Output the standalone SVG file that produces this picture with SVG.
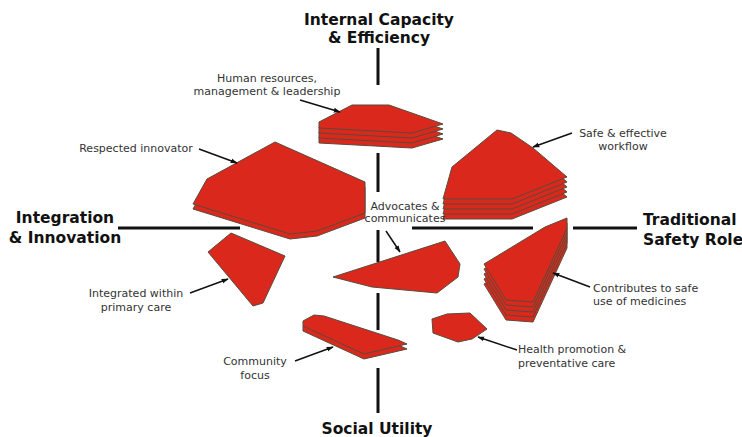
<svg xmlns="http://www.w3.org/2000/svg" xmlns:xlink="http://www.w3.org/1999/xlink" width="742" height="437" viewBox="0 0 742 437">
<style>
.shape{fill:#da291c;stroke:#5a4a3a;stroke-width:1;stroke-linejoin:round}
.axis{stroke:#111;stroke-width:3;fill:none}
.title{font-family:"DejaVu Sans",Verdana,sans-serif;font-weight:bold;font-size:15.5px;fill:#111}
.lbl{font-family:"DejaVu Sans",Verdana,sans-serif;font-size:11px;fill:#333}
.arr{stroke:#111;stroke-width:1.5;fill:none;marker-end:url(#ah)}
</style>
<defs>
<marker id="ah" viewBox="0 0 10 10" refX="9" refY="5" markerWidth="7" markerHeight="7" markerUnits="userSpaceOnUse" orient="auto">
<path d="M0,1.5 L10,5 L0,8.5 z" fill="#111"/>
</marker>
<polygon id="hrL" class="shape" points="319,122 352,105 389,105 443,124 412,133 319,128"/>
<polygon id="riL" class="shape" points="275,142 365,182 365,213 317,231 290,234 193,204 207,179"/>
<polygon id="swL" class="shape" points="497,130 511,133 533,148 567,177 512,199 443,199 452,167"/>
<polygon id="csL" class="shape" points="567,218 545,227 484,264 506,300 533,302 567,228"/>
<polygon id="cfL" class="shape" points="303,321 314,315 324,316 398,340 407,344 364,354 303,326"/>
</defs>
<rect width="742" height="437" fill="#fff"/>

<g id="axes">
<line class="axis" x1="378" y1="48" x2="378" y2="85"/>
<line class="axis" x1="378" y1="153" x2="378" y2="192"/>
<line class="axis" x1="378" y1="230" x2="378" y2="262"/>
<line class="axis" x1="378" y1="293" x2="378" y2="330"/>
<line class="axis" x1="378" y1="368" x2="378" y2="413"/>
<line class="axis" x1="118" y1="228" x2="240" y2="228"/>
<line class="axis" x1="412" y1="228" x2="533" y2="228"/>
<line class="axis" x1="573" y1="228" x2="637" y2="228"/>
</g>

<g id="title-top">
<text class="title" x="379" y="25" text-anchor="middle">Internal Capacity</text>
<text class="title" x="379" y="43" text-anchor="middle">&amp; Efficiency</text>
</g>
<g id="title-left">
<text class="title" x="65" y="223" text-anchor="middle">Integration</text>
<text class="title" x="65" y="243" text-anchor="middle">&amp; Innovation</text>
</g>
<g id="title-right">
<text class="title" x="643" y="225">Traditional</text>
<text class="title" x="643" y="245">Safety Role</text>
</g>
<g id="title-bottom">
<text class="title" x="377" y="434" text-anchor="middle">Social Utility</text>
</g>

<g id="human-resources">
<use xlink:href="#hrL" y="15"/>
<use xlink:href="#hrL" y="10"/>
<use xlink:href="#hrL" y="5"/>
<use xlink:href="#hrL"/>
<text class="lbl" x="267" y="82" text-anchor="middle">Human resources,</text>
<text class="lbl" x="267" y="95" text-anchor="middle">management &amp; leadership</text>
</g>

<g id="respected-innovator">
<use xlink:href="#riL" y="5"/>
<use xlink:href="#riL"/>
<text class="lbl" x="136" y="152" text-anchor="middle">Respected innovator</text>
</g>

<g id="safe-workflow">
<use xlink:href="#swL" y="20"/>
<use xlink:href="#swL" y="15"/>
<use xlink:href="#swL" y="10"/>
<use xlink:href="#swL" y="5"/>
<use xlink:href="#swL"/>
<text class="lbl" x="623" y="137" text-anchor="middle">Safe &amp; effective</text>
<text class="lbl" x="623" y="150" text-anchor="middle">workflow</text>
</g>

<g id="safe-medicines">
<use xlink:href="#csL" y="20"/>
<use xlink:href="#csL" y="15"/>
<use xlink:href="#csL" y="10"/>
<use xlink:href="#csL" y="5"/>
<use xlink:href="#csL"/>
<text class="lbl" x="593" y="292">Contributes to safe</text>
<text class="lbl" x="593" y="305">use of medicines</text>
</g>

<g id="advocates">
<polygon class="shape" points="333,277 445,241 460,264 458,277 437,293 372,287"/>
<text class="lbl" x="405" y="210" text-anchor="middle">Advocates &amp;</text>
<text class="lbl" x="405" y="222" text-anchor="middle">communicates</text>
</g>

<g id="primary-care">
<polygon class="shape" points="231,233 285,256 263,303 253,306 208,252"/>
<text class="lbl" x="136" y="297" text-anchor="middle">Integrated within</text>
<text class="lbl" x="136" y="311" text-anchor="middle">primary care</text>
</g>

<g id="community-focus">
<use xlink:href="#cfL" y="5"/>
<use xlink:href="#cfL"/>
<text class="lbl" x="255" y="365" text-anchor="middle">Community</text>
<text class="lbl" x="255" y="379" text-anchor="middle">focus</text>
</g>

<g id="health-promotion">
<polygon class="shape" points="432,319 447,314 470,313 487,329 472,339 458,342 433,333"/>
<text class="lbl" x="518" y="353">Health promotion &amp;</text>
<text class="lbl" x="518" y="367">preventative care</text>
</g>

<g id="connectors">
<line class="arr" x1="300" y1="100" x2="340" y2="112"/>
<line class="arr" x1="199" y1="149" x2="237" y2="163"/>
<line class="arr" x1="572" y1="133" x2="533" y2="147"/>
<line class="arr" x1="386" y1="231" x2="400" y2="252"/>
<line class="arr" x1="590" y1="287" x2="553" y2="273"/>
<line class="arr" x1="190" y1="293" x2="228" y2="279"/>
<line class="arr" x1="295" y1="361" x2="333" y2="347"/>
<line class="arr" x1="517" y1="350" x2="478" y2="337"/>
</g>
</svg>
